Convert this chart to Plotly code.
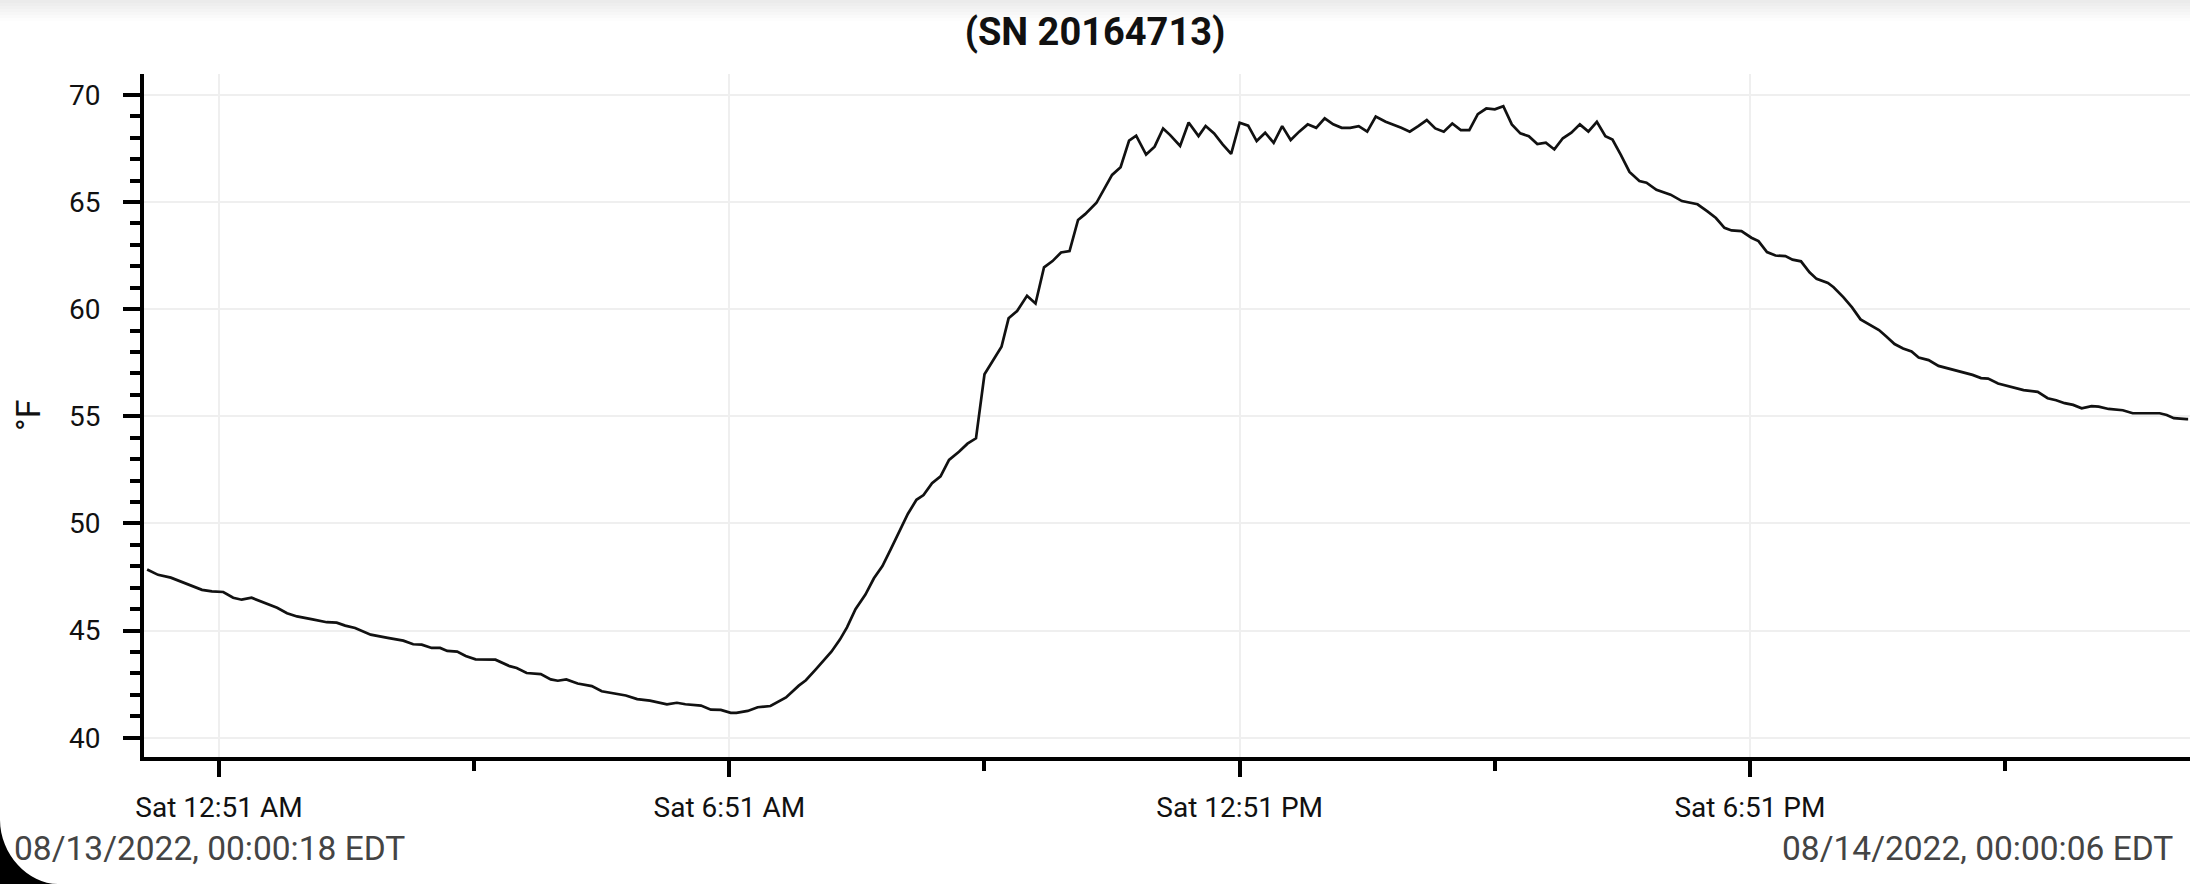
import pandas as pd
import plotly.graph_objects as go

# logger readings for 08/13/2022 (EDT)
times = [
    "00:00:18", "00:08", "00:17", "00:28", "00:39", "00:46", "00:54", "01:01", "01:07", "01:14",
    "01:24", "01:32", "01:39", "01:46", "01:57", "02:07", "02:14", "02:20", "02:27", "02:38",
    "02:50", "03:01", "03:08", "03:14", "03:21", "03:27", "03:32", "03:39", "03:45", "03:52",
    "04:06", "04:16", "04:21", "04:28", "04:38", "04:45", "04:50", "04:56", "05:04", "05:14",
    "05:21", "05:30", "05:38", "05:46", "05:55", "06:07", "06:14", "06:20", "06:31", "06:38",
    "06:45", "06:52", "06:56", "07:04", "07:11", "07:20", "07:31", "07:40", "07:45", "07:52",
    "08:03", "08:09", "08:14", "08:20", "08:27", "08:33", "08:39", "08:45", "08:51", "08:57",
    "09:03", "09:08", "09:14", "09:20", "09:26", "09:33", "09:39", "09:45", "09:51", "09:57",
    "10:03", "10:08", "10:14", "10:21", "10:27", "10:33", "10:39", "10:45", "10:51", "10:57",
    "11:02", "11:10", "11:15", "11:21", "11:27", "11:33", "11:38", "11:45", "11:51", "11:57",
    "12:02", "12:09", "12:15", "12:22", "12:27", "12:33", "12:39", "12:45", "12:51", "12:57",
    "13:03", "13:09", "13:15", "13:21", "13:27", "13:33", "13:39", "13:45", "13:51", "13:57",
    "14:03", "14:09", "14:15", "14:21", "14:27", "14:34", "14:45", "14:51", "14:57", "15:03",
    "15:09", "15:15", "15:21", "15:27", "15:33", "15:39", "15:45", "15:51", "15:57", "16:03",
    "16:09", "16:15", "16:21", "16:27", "16:33", "16:39", "16:45", "16:51", "16:57", "17:03",
    "17:09", "17:14", "17:20", "17:26", "17:33", "17:38", "17:45", "17:55", "18:03", "18:14",
    "18:21", "18:27", "18:33", "18:38", "18:45", "18:52", "18:57", "19:03", "19:09", "19:16",
    "19:21", "19:27", "19:33", "19:38", "19:46", "19:50", "19:57", "20:03", "20:09", "20:15",
    "20:22", "20:27", "20:33", "20:39", "20:45", "20:50", "20:57", "21:04", "21:11", "21:16",
    "21:22", "21:28", "21:34", "21:39", "21:46", "21:56", "22:04", "22:14", "22:21", "22:27",
    "22:33", "22:39", "22:45", "22:52", "22:57", "23:04", "23:14", "23:21", "23:29", "23:40",
    "23:45", "23:50", "23:59",
]
temps_f = [
    47.85, 47.60, 47.47, 47.19, 46.90, 46.83, 46.80, 46.53, 46.44, 46.53,
    46.28, 46.06, 45.81, 45.66, 45.52, 45.39, 45.37, 45.23, 45.12, 44.81,
    44.66, 44.53, 44.36, 44.34, 44.19, 44.19, 44.05, 44.02, 43.81, 43.66,
    43.64, 43.34, 43.25, 43.02, 42.97, 42.72, 42.66, 42.72, 42.53, 42.41,
    42.17, 42.06, 41.97, 41.80, 41.73, 41.56, 41.63, 41.56, 41.50, 41.31,
    41.30, 41.16, 41.16, 41.25, 41.42, 41.48, 41.88, 42.43, 42.68, 43.19,
    44.01, 44.58, 45.15, 46.00, 46.68, 47.44, 48.01, 48.81, 49.63, 50.45,
    51.10, 51.32, 51.88, 52.20, 52.96, 53.34, 53.72, 53.97, 56.96, 57.59,
    58.24, 59.57, 59.91, 60.62, 60.26, 61.95, 62.24, 62.64, 62.71, 64.16,
    64.43, 64.96, 65.57, 66.26, 66.62, 67.86, 68.09, 67.21, 67.58, 68.43,
    68.12, 67.61, 68.71, 68.07, 68.54, 68.20, 67.69, 67.24, 68.70, 68.56,
    67.84, 68.23, 67.76, 68.54, 67.89, 68.28, 68.62, 68.46, 68.90, 68.62,
    68.46, 68.46, 68.54, 68.28, 68.98, 68.74, 68.46, 68.28, 68.54, 68.82,
    68.43, 68.28, 68.66, 68.35, 68.35, 69.10, 69.36, 69.32, 69.47, 68.62,
    68.20, 68.07, 67.70, 67.76, 67.45, 67.97, 68.23, 68.62, 68.28, 68.74,
    68.07, 67.91, 67.18, 66.40, 65.98, 65.90, 65.57, 65.34, 65.04, 64.89,
    64.56, 64.25, 63.79, 63.67, 63.64, 63.33, 63.17, 62.66, 62.50, 62.47,
    62.31, 62.23, 61.72, 61.41, 61.22, 61.02, 60.55, 60.08, 59.52, 59.30,
    59.02, 58.73, 58.37, 58.16, 58.02, 57.74, 57.62, 57.35, 57.23, 57.15,
    57.03, 56.93, 56.78, 56.76, 56.53, 56.37, 56.22, 56.14, 55.84, 55.75,
    55.61, 55.53, 55.37, 55.47, 55.45, 55.34, 55.28, 55.14, 55.14, 55.14,
    55.06, 54.91, 54.87,
    54.87,  # last reading, 08/14 00:00:06
]
stamps = ["2022-08-13 " + t for t in times] + ["2022-08-14 00:00:06"]

x_tick_vals = ["2022-08-13 00:51", "2022-08-13 06:51", "2022-08-13 12:51", "2022-08-13 18:51"]
x_tick_text = ["Sat 12:51 AM", "Sat 6:51 AM", "Sat 12:51 PM", "Sat 6:51 PM"]
x_minor_vals = ["2022-08-13 03:51", "2022-08-13 09:51", "2022-08-13 15:51", "2022-08-13 21:51"]
y_tick_vals = [40, 45, 50, 55, 60, 65, 70]

title_text = "(SN 20164713)"
start_label = "08/13/2022, 00:00:18 EDT"
end_label = "08/14/2022, 00:00:06 EDT"
unit_label = "°F"

W, H = 2190, 884
L, R, T, B = 144, 0, 74, 127
PW, PH = W - L - R, H - T - B

df = pd.DataFrame({"time": pd.to_datetime(stamps, format="mixed"), "temp": temps_f})

fig = go.Figure()
fig.add_trace(go.Scatter(
    x=df["time"], y=df["temp"], mode="lines",
    line=dict(color="#111111", width=2.7),
    hoverinfo="skip", showlegend=False,
))

axis_font = dict(family="Roboto", size=28, color="#111111")

fig.update_xaxes(
    range=["2022-08-12 23:58:05", "2022-08-14 00:01:25"],
    tickmode="array", tickvals=x_tick_vals, ticktext=x_tick_text,
    ticks="outside", ticklen=16, tickwidth=4, tickcolor="black",
    showline=True, linecolor="black", linewidth=4,
    showgrid=True, gridcolor="#efefef", gridwidth=1.5,
    zeroline=False, tickfont=axis_font, ticklabelstandoff=6,
    minor=dict(tickmode="array", tickvals=x_minor_vals, ticks="outside",
               ticklen=10, tickwidth=4, tickcolor="black", showgrid=False),
    automargin=False,
)
fig.update_yaxes(
    range=[39.1, 70.97],
    tickmode="array", tickvals=y_tick_vals,
    ticks="outside", ticklen=17, tickwidth=4, tickcolor="black",
    showline=True, linecolor="black", linewidth=4,
    showgrid=True, gridcolor="#efefef", gridwidth=1.5,
    zeroline=False, tickfont=axis_font, ticklabelstandoff=17,
    minor=dict(dtick=1, ticks="outside", ticklen=10, tickwidth=4,
               tickcolor="black", showgrid=False),
    automargin=False,
)

# faint shadow along the top edge
shapes = []
strip_shades = ["#ebebeb", "#eeeeee", "#f1f1f1", "#f4f4f4", "#f7f7f7", "#fafafa", "#fdfdfd"]
top_anchor = 1 + T / PH
for i, shade in enumerate(strip_shades):
    shapes.append(dict(
        type="rect", xref="paper", yref="paper",
        x0=-L / PW, x1=1 + R / PW,
        ysizemode="pixel", yanchor=top_anchor, y0=-3 * i - 3, y1=-3 * i,
        fillcolor=shade, line=dict(width=0), layer="below",
    ))
# dark rounded screen corner, bottom left
shapes.append(dict(
    type="path", xref="paper", yref="paper",
    xsizemode="pixel", ysizemode="pixel",
    xanchor=-L / PW, yanchor=-B / PH,
    path="M 0,0 L 58,0 C 28,0 0,30 0,64 Z",
    fillcolor="black", line=dict(width=0), layer="above",
))

text_grey = "#444444"
annotations = [
    dict(text=start_label, xref="paper", yref="paper",
         x=(12 - L) / PW, y=-(848 - (H - B)) / PH, xanchor="left", yanchor="middle",
         showarrow=False, font=dict(family="Roboto", size=33.5, color=text_grey)),
    dict(text=end_label, xref="paper", yref="paper",
         x=(2175 - L) / PW, y=-(848 - (H - B)) / PH, xanchor="right", yanchor="middle",
         showarrow=False, font=dict(family="Roboto", size=33.5, color=text_grey)),
    dict(text=unit_label, xref="paper", yref="paper",
         x=(28 - L) / PW, y=((H - B) - 415) / PH, xanchor="center", yanchor="middle",
         textangle=-90, showarrow=False,
         font=dict(family="Roboto", size=34, color="#111111")),
]

fig.update_layout(
    width=W, height=H,
    margin=dict(l=L, r=R, t=T, b=B, pad=0),
    paper_bgcolor="white", plot_bgcolor="white",
    title=dict(text=title_text, x=0.5, xanchor="center", xref="container",
               y=1 - 32 / H, yanchor="middle", yref="container",
               font=dict(family="Roboto", size=38, color="#111111", weight=700)),
    shapes=shapes, annotations=annotations,
    showlegend=False,
)

# drop the page's default body margin so the figure sits at the window origin
fig.write_html(
    "out.html",
    config={"displayModeBar": False},
    post_script="document.body.style.margin='0';",
)
